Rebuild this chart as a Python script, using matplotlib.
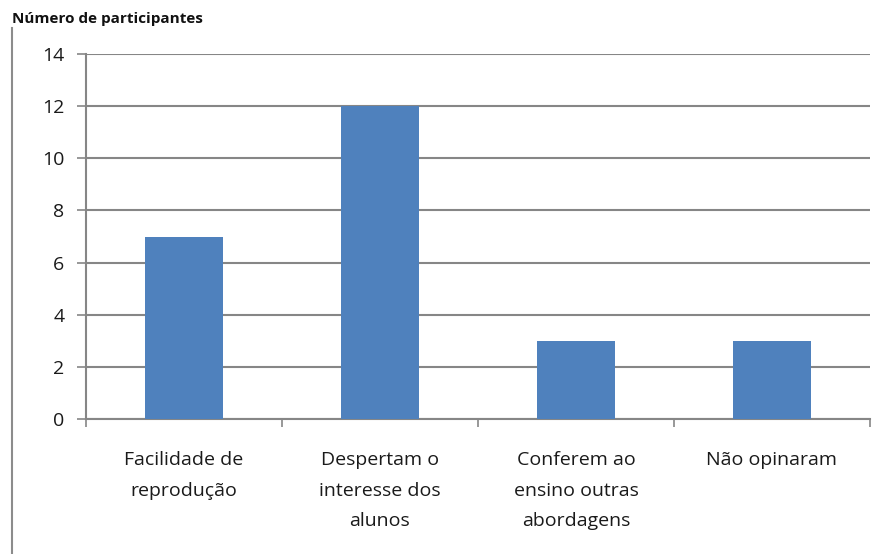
import matplotlib
matplotlib.use("Agg")
import matplotlib.pyplot as plt
from matplotlib.lines import Line2D

categorias = ["Facilidade de\nreprodução", "Despertam o\ninteresse dos\nalunos",
              "Conferem ao\nensino outras\nabordagens", "Não opinaram"]
participantes = [7, 12, 3, 3]
y_ticks = [0, 2, 4, 6, 8, 10, 12, 14]

plt.rcParams['font.family'] = ['Open Sans', 'DejaVu Sans']
cinza = '#868686'

W, H = 885, 554
fig = plt.figure(figsize=(W / 100, H / 100), dpi=100)
ax = fig.add_axes([86 / W, (H - 419) / H, (870 - 86) / W, (419 - 54) / H])

pos = list(range(len(categorias)))
ax.bar(pos, participantes, width=0.4, color='#4F81BD', zorder=3)

ax.set_xlim(-0.5, len(categorias) - 0.5)
ax.set_ylim(0, 14)
ax.set_yticks(y_ticks)
ax.yaxis.grid(True, color=cinza, linewidth=1.5, zorder=0)
ax.tick_params(axis='y', length=6.5, width=1.2, color=cinza, labelsize=14,
               pad=9, labelcolor='#1a1a1a')

# divisões entre categorias como ticks principais, rótulos nos menores
ax.set_xticks([p - 0.5 for p in pos] + [pos[-1] + 0.5])
ax.set_xticklabels([])
ax.tick_params(axis='x', which='major', length=6, width=1.2, color=cinza)
ax.set_xticks(pos, minor=True)
ax.set_xticklabels(categorias, minor=True, fontsize=14, linespacing=1.9,
                   color='#1a1a1a', va='top')
ax.tick_params(axis='x', which='minor', length=0, pad=23)

for s in ['top', 'right']:
    ax.spines[s].set_visible(False)
for s in ['left', 'bottom']:
    ax.spines[s].set_color(cinza)
    ax.spines[s].set_linewidth(1.5)

fig.text(12 / W, 1 - 19 / H, "Número de participantes", fontsize=11,
         fontweight='bold', va='center', ha='left', color='#111111')
fig.add_artist(Line2D([12 / W, 12 / W], [0, 1 - 28 / H], color='#8c8c8c',
                      linewidth=1.5, transform=fig.transFigure))

fig.savefig("out.png", dpi=100)
